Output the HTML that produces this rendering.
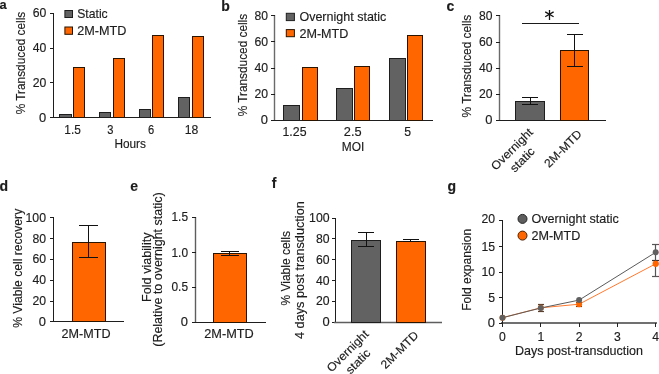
<!DOCTYPE html>
<html><head><meta charset="utf-8"><style>
html,body{margin:0;padding:0;background:#fff;width:659px;height:374px;overflow:hidden}
svg{display:block;will-change:transform;font-family:"Liberation Sans",sans-serif}
</style></head><body>
<svg width="659" height="374" viewBox="0 0 659 374">
<rect width="659" height="374" fill="#fff"/>
<text x="-0.4" y="8.8" font-size="12.8" text-anchor="start" font-weight="bold" fill="#1c1c1c" stroke="#1c1c1c" stroke-width="0.15">a</text>
<text transform="translate(24.5,63) rotate(-90)" x="0" y="0" font-size="12.1" text-anchor="middle" fill="#1c1c1c" stroke="#1c1c1c" stroke-width="0.15" textLength="102.5" lengthAdjust="spacingAndGlyphs">% Transduced cells</text>
<line x1="53.5" y1="13" x2="53.5" y2="118" stroke="#1e1e1e" stroke-width="1.0"/>
<line x1="50" y1="13.5" x2="54" y2="13.5" stroke="#1e1e1e" stroke-width="1.0"/>
<text x="46.3" y="17.4" font-size="12.1" text-anchor="end" font-weight="normal" fill="#1c1c1c" stroke="#1c1c1c" stroke-width="0.15" textLength="13.6" lengthAdjust="spacingAndGlyphs">60</text>
<line x1="50" y1="48.5" x2="54" y2="48.5" stroke="#1e1e1e" stroke-width="1.0"/>
<text x="46.3" y="52.1" font-size="12.1" text-anchor="end" font-weight="normal" fill="#1c1c1c" stroke="#1c1c1c" stroke-width="0.15" textLength="13.6" lengthAdjust="spacingAndGlyphs">40</text>
<line x1="50" y1="82.5" x2="54" y2="82.5" stroke="#1e1e1e" stroke-width="1.0"/>
<text x="46.3" y="86.8" font-size="12.1" text-anchor="end" font-weight="normal" fill="#1c1c1c" stroke="#1c1c1c" stroke-width="0.15" textLength="13.6" lengthAdjust="spacingAndGlyphs">20</text>
<line x1="50" y1="117.5" x2="54" y2="117.5" stroke="#1e1e1e" stroke-width="1.0"/>
<text x="46.3" y="121.6" font-size="12.1" text-anchor="end" font-weight="normal" fill="#1c1c1c" stroke="#1c1c1c" stroke-width="0.15" textLength="7.2" lengthAdjust="spacingAndGlyphs">0</text>
<line x1="53" y1="117.5" x2="211" y2="117.5" stroke="#1e1e1e" stroke-width="1.0"/>
<rect x="59.5" y="114.5" width="12.0" height="3.0" fill="#626262" stroke="#1e1e1e" stroke-width="1.0"/>
<rect x="73.5" y="67.5" width="11.0" height="50.0" fill="#ff6600" stroke="#2a1400" stroke-width="1.0"/>
<rect x="99.5" y="112.5" width="11.0" height="5.0" fill="#626262" stroke="#1e1e1e" stroke-width="1.0"/>
<rect x="113.5" y="58.5" width="11.0" height="59.0" fill="#ff6600" stroke="#2a1400" stroke-width="1.0"/>
<rect x="139.5" y="109.5" width="11.0" height="8.0" fill="#626262" stroke="#1e1e1e" stroke-width="1.0"/>
<rect x="152.5" y="35.5" width="11.0" height="82.0" fill="#ff6600" stroke="#2a1400" stroke-width="1.0"/>
<rect x="178.5" y="97.5" width="11.0" height="20.0" fill="#626262" stroke="#1e1e1e" stroke-width="1.0"/>
<rect x="192.5" y="36.5" width="11.0" height="81.0" fill="#ff6600" stroke="#2a1400" stroke-width="1.0"/>
<text x="72.6" y="134.0" font-size="12.1" text-anchor="middle" font-weight="normal" fill="#1c1c1c" stroke="#1c1c1c" stroke-width="0.15" textLength="16.5" lengthAdjust="spacingAndGlyphs">1.5</text>
<text x="110.4" y="134.0" font-size="12.1" text-anchor="middle" font-weight="normal" fill="#1c1c1c" stroke="#1c1c1c" stroke-width="0.15" textLength="6.2" lengthAdjust="spacingAndGlyphs">3</text>
<text x="151.0" y="134.0" font-size="12.1" text-anchor="middle" font-weight="normal" fill="#1c1c1c" stroke="#1c1c1c" stroke-width="0.15" textLength="6.2" lengthAdjust="spacingAndGlyphs">6</text>
<text x="191.6" y="134.0" font-size="12.1" text-anchor="middle" font-weight="normal" fill="#1c1c1c" stroke="#1c1c1c" stroke-width="0.15" textLength="13.6" lengthAdjust="spacingAndGlyphs">18</text>
<text x="130.2" y="148.4" font-size="12.1" text-anchor="middle" font-weight="normal" fill="#1c1c1c" stroke="#1c1c1c" stroke-width="0.15" textLength="31.5" lengthAdjust="spacingAndGlyphs">Hours</text>
<rect x="64.9" y="10.5" width="7.599999999999994" height="7.0" fill="#626262" stroke="#1e1e1e" stroke-width="1.0"/>
<rect x="64.9" y="27.0" width="7.599999999999994" height="7.299999999999997" fill="#ff6600" stroke="#2a1400" stroke-width="1.0"/>
<text x="77.2" y="18.1" font-size="12.1" text-anchor="start" font-weight="normal" fill="#1c1c1c" stroke="#1c1c1c" stroke-width="0.15" textLength="30.5" lengthAdjust="spacingAndGlyphs">Static</text>
<text x="77.2" y="35.0" font-size="12.1" text-anchor="start" font-weight="normal" fill="#1c1c1c" stroke="#1c1c1c" stroke-width="0.15" textLength="49.3" lengthAdjust="spacingAndGlyphs">2M-MTD</text>
<text x="221.2" y="10.5" font-size="14.0" text-anchor="start" font-weight="bold" fill="#1c1c1c" stroke="#1c1c1c" stroke-width="0.15">b</text>
<text transform="translate(247.0,65.1) rotate(-90)" x="0" y="0" font-size="12.1" text-anchor="middle" fill="#1c1c1c" stroke="#1c1c1c" stroke-width="0.15" textLength="102.5" lengthAdjust="spacingAndGlyphs">% Transduced cells</text>
<line x1="274.5" y1="15" x2="274.5" y2="121" stroke="#6a6a6a" stroke-width="1.4"/>
<line x1="271" y1="15.5" x2="275" y2="15.5" stroke="#1e1e1e" stroke-width="1.0"/>
<text x="268.0" y="19.7" font-size="12.1" text-anchor="end" font-weight="normal" fill="#1c1c1c" stroke="#1c1c1c" stroke-width="0.15">80</text>
<line x1="271" y1="41.5" x2="275" y2="41.5" stroke="#1e1e1e" stroke-width="1.0"/>
<text x="268.0" y="45.9" font-size="12.1" text-anchor="end" font-weight="normal" fill="#1c1c1c" stroke="#1c1c1c" stroke-width="0.15" textLength="13.6" lengthAdjust="spacingAndGlyphs">60</text>
<line x1="271" y1="68.5" x2="275" y2="68.5" stroke="#1e1e1e" stroke-width="1.0"/>
<text x="268.0" y="72.0" font-size="12.1" text-anchor="end" font-weight="normal" fill="#1c1c1c" stroke="#1c1c1c" stroke-width="0.15" textLength="13.6" lengthAdjust="spacingAndGlyphs">40</text>
<line x1="271" y1="94.5" x2="275" y2="94.5" stroke="#1e1e1e" stroke-width="1.0"/>
<text x="268.0" y="98.1" font-size="12.1" text-anchor="end" font-weight="normal" fill="#1c1c1c" stroke="#1c1c1c" stroke-width="0.15" textLength="13.6" lengthAdjust="spacingAndGlyphs">20</text>
<line x1="271" y1="120.5" x2="275" y2="120.5" stroke="#1e1e1e" stroke-width="1.0"/>
<text x="268.0" y="124.3" font-size="12.1" text-anchor="end" font-weight="normal" fill="#1c1c1c" stroke="#1c1c1c" stroke-width="0.15" textLength="7.2" lengthAdjust="spacingAndGlyphs">0</text>
<line x1="272" y1="120.5" x2="433" y2="120.5" stroke="#1e1e1e" stroke-width="1.0"/>
<rect x="283.5" y="105.5" width="16.0" height="15.0" fill="#626262" stroke="#1e1e1e" stroke-width="1.0"/>
<rect x="302.5" y="67.5" width="15.0" height="53.0" fill="#ff6600" stroke="#2a1400" stroke-width="1.0"/>
<rect x="336.5" y="88.5" width="16.0" height="32.0" fill="#626262" stroke="#1e1e1e" stroke-width="1.0"/>
<rect x="354.5" y="66.5" width="15.0" height="54.0" fill="#ff6600" stroke="#2a1400" stroke-width="1.0"/>
<rect x="389.5" y="58.5" width="16.0" height="62.0" fill="#626262" stroke="#1e1e1e" stroke-width="1.0"/>
<rect x="407.5" y="35.5" width="15.0" height="85.0" fill="#ff6600" stroke="#2a1400" stroke-width="1.0"/>
<text x="294.5" y="135.9" font-size="12.1" text-anchor="middle" font-weight="normal" fill="#1c1c1c" stroke="#1c1c1c" stroke-width="0.15" textLength="24.0" lengthAdjust="spacingAndGlyphs">1.25</text>
<text x="352.7" y="135.9" font-size="12.1" text-anchor="middle" font-weight="normal" fill="#1c1c1c" stroke="#1c1c1c" stroke-width="0.15" textLength="17.8" lengthAdjust="spacingAndGlyphs">2.5</text>
<text x="407.6" y="135.9" font-size="12.1" text-anchor="middle" font-weight="normal" fill="#1c1c1c" stroke="#1c1c1c" stroke-width="0.15" textLength="6.8" lengthAdjust="spacingAndGlyphs">5</text>
<text x="353.0" y="150.9" font-size="12.1" text-anchor="middle" font-weight="normal" fill="#1c1c1c" stroke="#1c1c1c" stroke-width="0.15" textLength="22.5" lengthAdjust="spacingAndGlyphs">MOI</text>
<rect x="286.3" y="13.3" width="8.099999999999966" height="7.300000000000001" fill="#626262" stroke="#1e1e1e" stroke-width="1.0"/>
<rect x="286.3" y="29.6" width="8.099999999999966" height="7.100000000000001" fill="#ff6600" stroke="#2a1400" stroke-width="1.0"/>
<text x="299.4" y="21.3" font-size="12.1" text-anchor="start" font-weight="normal" fill="#1c1c1c" stroke="#1c1c1c" stroke-width="0.15" textLength="87.0" lengthAdjust="spacingAndGlyphs">Overnight static</text>
<text x="299.4" y="38.2" font-size="12.1" text-anchor="start" font-weight="normal" fill="#1c1c1c" stroke="#1c1c1c" stroke-width="0.15" textLength="49.0" lengthAdjust="spacingAndGlyphs">2M-MTD</text>
<text x="446.4" y="10.8" font-size="14.0" text-anchor="start" font-weight="bold" fill="#1c1c1c" stroke="#1c1c1c" stroke-width="0.15">c</text>
<text transform="translate(471.3,66.1) rotate(-90)" x="0" y="0" font-size="12.1" text-anchor="middle" fill="#1c1c1c" stroke="#1c1c1c" stroke-width="0.15" textLength="102.8" lengthAdjust="spacingAndGlyphs">% Transduced cells</text>
<line x1="499.5" y1="15" x2="499.5" y2="121" stroke="#6a6a6a" stroke-width="1.4"/>
<line x1="496" y1="15.5" x2="500" y2="15.5" stroke="#1e1e1e" stroke-width="1.0"/>
<text x="492.5" y="19.9" font-size="12.1" text-anchor="end" font-weight="normal" fill="#1c1c1c" stroke="#1c1c1c" stroke-width="0.15">80</text>
<line x1="496" y1="42.5" x2="500" y2="42.5" stroke="#1e1e1e" stroke-width="1.0"/>
<text x="492.5" y="46.0" font-size="12.1" text-anchor="end" font-weight="normal" fill="#1c1c1c" stroke="#1c1c1c" stroke-width="0.15" textLength="13.6" lengthAdjust="spacingAndGlyphs">60</text>
<line x1="496" y1="68.5" x2="500" y2="68.5" stroke="#1e1e1e" stroke-width="1.0"/>
<text x="492.5" y="72.1" font-size="12.1" text-anchor="end" font-weight="normal" fill="#1c1c1c" stroke="#1c1c1c" stroke-width="0.15" textLength="13.6" lengthAdjust="spacingAndGlyphs">40</text>
<line x1="496" y1="94.5" x2="500" y2="94.5" stroke="#1e1e1e" stroke-width="1.0"/>
<text x="492.5" y="98.1" font-size="12.1" text-anchor="end" font-weight="normal" fill="#1c1c1c" stroke="#1c1c1c" stroke-width="0.15" textLength="13.6" lengthAdjust="spacingAndGlyphs">20</text>
<line x1="496" y1="120.5" x2="500" y2="120.5" stroke="#1e1e1e" stroke-width="1.0"/>
<text x="492.5" y="124.1" font-size="12.1" text-anchor="end" font-weight="normal" fill="#1c1c1c" stroke="#1c1c1c" stroke-width="0.15" textLength="7.2" lengthAdjust="spacingAndGlyphs">0</text>
<line x1="498" y1="120.5" x2="606" y2="120.5" stroke="#1e1e1e" stroke-width="1.0"/>
<rect x="515.5" y="101.5" width="29.0" height="19.0" fill="#626262" stroke="#1e1e1e" stroke-width="1.0"/>
<rect x="560.5" y="50.5" width="28.0" height="70.0" fill="#ff6600" stroke="#2a1400" stroke-width="1.0"/>
<line x1="530.5" y1="97" x2="530.5" y2="105" stroke="#111" stroke-width="1.0"/>
<line x1="522" y1="97.5" x2="538" y2="97.5" stroke="#111" stroke-width="1.0"/>
<line x1="522" y1="104.5" x2="538" y2="104.5" stroke="#111" stroke-width="1.0"/>
<line x1="574.5" y1="34" x2="574.5" y2="67" stroke="#111" stroke-width="1.0"/>
<line x1="567" y1="34.5" x2="583" y2="34.5" stroke="#111" stroke-width="1.0"/>
<line x1="567" y1="66.5" x2="583" y2="66.5" stroke="#111" stroke-width="1.0"/>
<line x1="522" y1="23.5" x2="579" y2="23.5" stroke="#1a1a1a" stroke-width="1.2"/>
<line x1="549.5" y1="10" x2="549.5" y2="20" stroke="#111" stroke-width="1.3"/>
<line x1="545.2" y1="11.9" x2="553.6" y2="16.8" stroke="#111" stroke-width="1.3"/>
<line x1="545.2" y1="16.8" x2="553.6" y2="11.9" stroke="#111" stroke-width="1.3"/>
<g transform="translate(514.7,152.0) rotate(-45)">
<text x="0" y="0" font-size="11.8" text-anchor="middle" font-weight="normal" fill="#1c1c1c" stroke="#1c1c1c" stroke-width="0.15" textLength="53.5" lengthAdjust="spacingAndGlyphs">Overnight</text>
<text x="0" y="14.8" font-size="11.8" text-anchor="middle" font-weight="normal" fill="#1c1c1c" stroke="#1c1c1c" stroke-width="0.15" textLength="29.5" lengthAdjust="spacingAndGlyphs">static</text>
</g>
<g transform="translate(565.8,151.5) rotate(-45)">
<text x="0" y="0" font-size="11.8" text-anchor="middle" font-weight="normal" fill="#1c1c1c" stroke="#1c1c1c" stroke-width="0.15" textLength="47.5" lengthAdjust="spacingAndGlyphs">2M-MTD</text>
</g>
<text x="-0.6" y="190.8" font-size="14.0" text-anchor="start" font-weight="bold" fill="#1c1c1c" stroke="#1c1c1c" stroke-width="0.15">d</text>
<text transform="translate(21.8,268.3) rotate(-90)" x="0" y="0" font-size="12.1" text-anchor="middle" fill="#1c1c1c" stroke="#1c1c1c" stroke-width="0.15" textLength="119" lengthAdjust="spacingAndGlyphs">% Viable cell recovery</text>
<line x1="53.5" y1="217" x2="53.5" y2="322" stroke="#1e1e1e" stroke-width="1.0"/>
<line x1="50" y1="217.5" x2="54" y2="217.5" stroke="#1e1e1e" stroke-width="1.0"/>
<text x="46.0" y="221.8" font-size="12.1" text-anchor="end" font-weight="normal" fill="#1c1c1c" stroke="#1c1c1c" stroke-width="0.15" textLength="20.5" lengthAdjust="spacingAndGlyphs">100</text>
<line x1="50" y1="238.5" x2="54" y2="238.5" stroke="#1e1e1e" stroke-width="1.0"/>
<text x="46.0" y="242.6" font-size="12.1" text-anchor="end" font-weight="normal" fill="#1c1c1c" stroke="#1c1c1c" stroke-width="0.15" textLength="13.6" lengthAdjust="spacingAndGlyphs">80</text>
<line x1="50" y1="259.5" x2="54" y2="259.5" stroke="#1e1e1e" stroke-width="1.0"/>
<text x="46.0" y="263.4" font-size="12.1" text-anchor="end" font-weight="normal" fill="#1c1c1c" stroke="#1c1c1c" stroke-width="0.15" textLength="13.6" lengthAdjust="spacingAndGlyphs">60</text>
<line x1="50" y1="280.5" x2="54" y2="280.5" stroke="#1e1e1e" stroke-width="1.0"/>
<text x="46.0" y="284.2" font-size="12.1" text-anchor="end" font-weight="normal" fill="#1c1c1c" stroke="#1c1c1c" stroke-width="0.15" textLength="13.6" lengthAdjust="spacingAndGlyphs">40</text>
<line x1="50" y1="301.5" x2="54" y2="301.5" stroke="#1e1e1e" stroke-width="1.0"/>
<text x="46.0" y="305.0" font-size="12.1" text-anchor="end" font-weight="normal" fill="#1c1c1c" stroke="#1c1c1c" stroke-width="0.15" textLength="13.6" lengthAdjust="spacingAndGlyphs">20</text>
<line x1="50" y1="321.5" x2="54" y2="321.5" stroke="#1e1e1e" stroke-width="1.0"/>
<text x="46.0" y="325.8" font-size="12.1" text-anchor="end" font-weight="normal" fill="#1c1c1c" stroke="#1c1c1c" stroke-width="0.15" textLength="7.2" lengthAdjust="spacingAndGlyphs">0</text>
<line x1="53" y1="321.5" x2="124" y2="321.5" stroke="#1e1e1e" stroke-width="1.0"/>
<rect x="72.5" y="242.5" width="33.0" height="79.0" fill="#ff6600" stroke="#2a1400" stroke-width="1.0"/>
<line x1="88.5" y1="225" x2="88.5" y2="258" stroke="#111" stroke-width="1.0"/>
<line x1="79" y1="225.5" x2="98" y2="225.5" stroke="#111" stroke-width="1.0"/>
<line x1="79" y1="257.5" x2="98" y2="257.5" stroke="#111" stroke-width="1.0"/>
<text x="86.1" y="337.9" font-size="12.1" text-anchor="middle" font-weight="normal" fill="#1c1c1c" stroke="#1c1c1c" stroke-width="0.15" textLength="49.0" lengthAdjust="spacingAndGlyphs">2M-MTD</text>
<text x="130.3" y="190.8" font-size="14.0" text-anchor="start" font-weight="bold" fill="#1c1c1c" stroke="#1c1c1c" stroke-width="0.15">e</text>
<text transform="translate(151.0,267.2) rotate(-90)" x="0" y="0" font-size="12.1" text-anchor="middle" fill="#1c1c1c" stroke="#1c1c1c" stroke-width="0.15" textLength="69.5" lengthAdjust="spacingAndGlyphs">Fold viability</text>
<text transform="translate(162.3,269.5) rotate(-90)" x="0" y="0" font-size="12.1" text-anchor="middle" fill="#1c1c1c" stroke="#1c1c1c" stroke-width="0.15" textLength="154.5" lengthAdjust="spacingAndGlyphs">(Relative to overnight static)</text>
<line x1="195.5" y1="217" x2="195.5" y2="323" stroke="#5e5e5e" stroke-width="1.4"/>
<line x1="192" y1="217.5" x2="196" y2="217.5" stroke="#1e1e1e" stroke-width="1.0"/>
<text x="188.0" y="221.2" font-size="12.1" text-anchor="end" font-weight="normal" fill="#1c1c1c" stroke="#1c1c1c" stroke-width="0.15" textLength="16.5" lengthAdjust="spacingAndGlyphs">1.5</text>
<line x1="192" y1="252.5" x2="196" y2="252.5" stroke="#1e1e1e" stroke-width="1.0"/>
<text x="188.0" y="257.2" font-size="12.1" text-anchor="end" font-weight="normal" fill="#1c1c1c" stroke="#1c1c1c" stroke-width="0.15" textLength="16.5" lengthAdjust="spacingAndGlyphs">1.0</text>
<line x1="192" y1="287.5" x2="196" y2="287.5" stroke="#1e1e1e" stroke-width="1.0"/>
<text x="188.0" y="291.2" font-size="12.1" text-anchor="end" font-weight="normal" fill="#1c1c1c" stroke="#1c1c1c" stroke-width="0.15" textLength="16.5" lengthAdjust="spacingAndGlyphs">0.5</text>
<line x1="192" y1="322.5" x2="196" y2="322.5" stroke="#1e1e1e" stroke-width="1.0"/>
<text x="188.0" y="326.2" font-size="12.1" text-anchor="end" font-weight="normal" fill="#1c1c1c" stroke="#1c1c1c" stroke-width="0.15" textLength="7.2" lengthAdjust="spacingAndGlyphs">0</text>
<line x1="192" y1="322.5" x2="266" y2="322.5" stroke="#1e1e1e" stroke-width="1.0"/>
<rect x="213.5" y="253.5" width="33.0" height="69.0" fill="#ff6600" stroke="#2a1400" stroke-width="1.0"/>
<line x1="229.5" y1="251" x2="229.5" y2="256" stroke="#111" stroke-width="1.0"/>
<line x1="221" y1="251.5" x2="239" y2="251.5" stroke="#111" stroke-width="1.0"/>
<line x1="221" y1="255.5" x2="239" y2="255.5" stroke="#111" stroke-width="1.0"/>
<text x="229.0" y="337.9" font-size="12.1" text-anchor="middle" font-weight="normal" fill="#1c1c1c" stroke="#1c1c1c" stroke-width="0.15" textLength="49.5" lengthAdjust="spacingAndGlyphs">2M-MTD</text>
<text x="271.8" y="188.4" font-size="14.0" text-anchor="start" font-weight="bold" fill="#1c1c1c" stroke="#1c1c1c" stroke-width="0.15">f</text>
<text transform="translate(289.8,268.3) rotate(-90)" x="0" y="0" font-size="12.1" text-anchor="middle" fill="#1c1c1c" stroke="#1c1c1c" stroke-width="0.15" textLength="74.5" lengthAdjust="spacingAndGlyphs">% Viable cells</text>
<text transform="translate(303.5,270.1) rotate(-90)" x="0" y="0" font-size="12.1" text-anchor="middle" fill="#1c1c1c" stroke="#1c1c1c" stroke-width="0.15" textLength="137.8" lengthAdjust="spacingAndGlyphs">4 days post transduction</text>
<line x1="335.5" y1="218" x2="335.5" y2="323" stroke="#1e1e1e" stroke-width="1.0"/>
<line x1="332" y1="218.5" x2="336" y2="218.5" stroke="#1e1e1e" stroke-width="1.0"/>
<text x="329.6" y="222.0" font-size="12.1" text-anchor="end" font-weight="normal" fill="#1c1c1c" stroke="#1c1c1c" stroke-width="0.15" textLength="20.5" lengthAdjust="spacingAndGlyphs">100</text>
<line x1="332" y1="238.5" x2="336" y2="238.5" stroke="#1e1e1e" stroke-width="1.0"/>
<text x="329.6" y="242.9" font-size="12.1" text-anchor="end" font-weight="normal" fill="#1c1c1c" stroke="#1c1c1c" stroke-width="0.15" textLength="13.6" lengthAdjust="spacingAndGlyphs">80</text>
<line x1="332" y1="259.5" x2="336" y2="259.5" stroke="#1e1e1e" stroke-width="1.0"/>
<text x="329.6" y="263.7" font-size="12.1" text-anchor="end" font-weight="normal" fill="#1c1c1c" stroke="#1c1c1c" stroke-width="0.15" textLength="13.6" lengthAdjust="spacingAndGlyphs">60</text>
<line x1="332" y1="280.5" x2="336" y2="280.5" stroke="#1e1e1e" stroke-width="1.0"/>
<text x="329.6" y="284.6" font-size="12.1" text-anchor="end" font-weight="normal" fill="#1c1c1c" stroke="#1c1c1c" stroke-width="0.15" textLength="13.6" lengthAdjust="spacingAndGlyphs">40</text>
<line x1="332" y1="301.5" x2="336" y2="301.5" stroke="#1e1e1e" stroke-width="1.0"/>
<text x="329.6" y="305.4" font-size="12.1" text-anchor="end" font-weight="normal" fill="#1c1c1c" stroke="#1c1c1c" stroke-width="0.15" textLength="13.6" lengthAdjust="spacingAndGlyphs">20</text>
<line x1="332" y1="322.5" x2="336" y2="322.5" stroke="#1e1e1e" stroke-width="1.0"/>
<text x="329.6" y="326.3" font-size="12.1" text-anchor="end" font-weight="normal" fill="#1c1c1c" stroke="#1c1c1c" stroke-width="0.15" textLength="7.2" lengthAdjust="spacingAndGlyphs">0</text>
<line x1="334" y1="322.5" x2="442" y2="322.5" stroke="#5e5e5e" stroke-width="1.4"/>
<rect x="351.5" y="240.5" width="29.0" height="82.0" fill="#626262" stroke="#1e1e1e" stroke-width="1.0"/>
<rect x="396.5" y="241.5" width="29.0" height="81.0" fill="#ff6600" stroke="#2a1400" stroke-width="1.0"/>
<line x1="366.5" y1="232" x2="366.5" y2="247" stroke="#111" stroke-width="1.0"/>
<line x1="358" y1="232.5" x2="374" y2="232.5" stroke="#111" stroke-width="1.0"/>
<line x1="358" y1="246.5" x2="374" y2="246.5" stroke="#111" stroke-width="1.0"/>
<line x1="410.5" y1="239" x2="410.5" y2="242" stroke="#111" stroke-width="1.0"/>
<line x1="403" y1="239.5" x2="419" y2="239.5" stroke="#111" stroke-width="1.0"/>
<line x1="403" y1="241.5" x2="419" y2="241.5" stroke="#111" stroke-width="1.0"/>
<g transform="translate(350.4,353.8) rotate(-45)">
<text x="0" y="0" font-size="11.8" text-anchor="middle" font-weight="normal" fill="#1c1c1c" stroke="#1c1c1c" stroke-width="0.15" textLength="53.5" lengthAdjust="spacingAndGlyphs">Overnight</text>
<text x="0" y="14.8" font-size="11.8" text-anchor="middle" font-weight="normal" fill="#1c1c1c" stroke="#1c1c1c" stroke-width="0.15" textLength="29.5" lengthAdjust="spacingAndGlyphs">static</text>
</g>
<g transform="translate(402.4,352.8) rotate(-45)">
<text x="0" y="0" font-size="11.8" text-anchor="middle" font-weight="normal" fill="#1c1c1c" stroke="#1c1c1c" stroke-width="0.15" textLength="47.5" lengthAdjust="spacingAndGlyphs">2M-MTD</text>
</g>
<text x="447.6" y="191.0" font-size="14.0" text-anchor="start" font-weight="bold" fill="#1c1c1c" stroke="#1c1c1c" stroke-width="0.15">g</text>
<text transform="translate(471.0,269.8) rotate(-90)" x="0" y="0" font-size="12.1" text-anchor="middle" fill="#1c1c1c" stroke="#1c1c1c" stroke-width="0.15" textLength="82" lengthAdjust="spacingAndGlyphs">Fold expansion</text>
<line x1="501.0" y1="323.0" x2="657" y2="323.0" stroke="#707070" stroke-width="1.8"/>
<line x1="502.5" y1="220" x2="502.5" y2="324" stroke="#1e1e1e" stroke-width="1.0"/>
<line x1="499" y1="220.5" x2="503" y2="220.5" stroke="#1e1e1e" stroke-width="1.0"/>
<text x="495.0" y="222.9" font-size="12.1" text-anchor="end" font-weight="normal" fill="#1c1c1c" stroke="#1c1c1c" stroke-width="0.15" textLength="13.6" lengthAdjust="spacingAndGlyphs">20</text>
<line x1="499" y1="246.5" x2="503" y2="246.5" stroke="#1e1e1e" stroke-width="1.0"/>
<text x="495.0" y="250.5" font-size="12.1" text-anchor="end" font-weight="normal" fill="#1c1c1c" stroke="#1c1c1c" stroke-width="0.15" textLength="13.6" lengthAdjust="spacingAndGlyphs">15</text>
<line x1="499" y1="272.5" x2="503" y2="272.5" stroke="#1e1e1e" stroke-width="1.0"/>
<text x="495.0" y="276.0" font-size="12.1" text-anchor="end" font-weight="normal" fill="#1c1c1c" stroke="#1c1c1c" stroke-width="0.15" textLength="13.6" lengthAdjust="spacingAndGlyphs">10</text>
<line x1="499" y1="297.5" x2="503" y2="297.5" stroke="#1e1e1e" stroke-width="1.0"/>
<text x="495.0" y="301.5" font-size="12.1" text-anchor="end" font-weight="normal" fill="#1c1c1c" stroke="#1c1c1c" stroke-width="0.15" textLength="6.8" lengthAdjust="spacingAndGlyphs">5</text>
<line x1="499" y1="323.5" x2="503" y2="323.5" stroke="#1e1e1e" stroke-width="1.0"/>
<text x="495.0" y="327.1" font-size="12.1" text-anchor="end" font-weight="normal" fill="#1c1c1c" stroke="#1c1c1c" stroke-width="0.15" textLength="7.2" lengthAdjust="spacingAndGlyphs">0</text>
<line x1="502.5" y1="323" x2="502.5" y2="327" stroke="#222" stroke-width="1.0"/>
<line x1="540.5" y1="323" x2="540.5" y2="327" stroke="#222" stroke-width="1.0"/>
<line x1="579.5" y1="323" x2="579.5" y2="327" stroke="#222" stroke-width="1.0"/>
<line x1="617.5" y1="323" x2="617.5" y2="327" stroke="#222" stroke-width="1.0"/>
<line x1="655.5" y1="323" x2="655.5" y2="327" stroke="#222" stroke-width="1.0"/>
<text x="502.5" y="340.8" font-size="12.1" text-anchor="middle" font-weight="normal" fill="#1c1c1c" stroke="#1c1c1c" stroke-width="0.15" textLength="6.8" lengthAdjust="spacingAndGlyphs">0</text>
<text x="540.8" y="340.8" font-size="12.1" text-anchor="middle" font-weight="normal" fill="#1c1c1c" stroke="#1c1c1c" stroke-width="0.15" textLength="6.8" lengthAdjust="spacingAndGlyphs">1</text>
<text x="579.1" y="340.8" font-size="12.1" text-anchor="middle" font-weight="normal" fill="#1c1c1c" stroke="#1c1c1c" stroke-width="0.15" textLength="6.8" lengthAdjust="spacingAndGlyphs">2</text>
<text x="617.4" y="340.8" font-size="12.1" text-anchor="middle" font-weight="normal" fill="#1c1c1c" stroke="#1c1c1c" stroke-width="0.15" textLength="6.8" lengthAdjust="spacingAndGlyphs">3</text>
<text x="655.7" y="340.8" font-size="12.1" text-anchor="middle" font-weight="normal" fill="#1c1c1c" stroke="#1c1c1c" stroke-width="0.15" textLength="6.8" lengthAdjust="spacingAndGlyphs">4</text>
<text x="579.0" y="355.2" font-size="12.1" text-anchor="middle" font-weight="normal" fill="#1c1c1c" stroke="#1c1c1c" stroke-width="0.15" textLength="128" lengthAdjust="spacingAndGlyphs">Days post-transduction</text>
<polyline points="502.5,317.7 540.8,307.8 579.1,304.2 655.7,263.8" fill="none" stroke="#ff7a30" stroke-width="1.0"/>
<polyline points="502.5,317.7 540.8,308.0 579.1,300.1 655.7,252.3" fill="none" stroke="#5a5a5a" stroke-width="1.0"/>
<line x1="540.5" y1="304" x2="540.5" y2="312" stroke="#5a4030" stroke-width="1.2"/>
<line x1="538" y1="304.5" x2="544" y2="304.5" stroke="#5a4030" stroke-width="1.2"/>
<line x1="538" y1="311.5" x2="544" y2="311.5" stroke="#5a4030" stroke-width="1.2"/>
<line x1="579.5" y1="302" x2="579.5" y2="307" stroke="#7a3000" stroke-width="1.2"/>
<line x1="576" y1="302.5" x2="582" y2="302.5" stroke="#7a3000" stroke-width="1.2"/>
<line x1="576" y1="306.5" x2="582" y2="306.5" stroke="#7a3000" stroke-width="1.2"/>
<line x1="655.5" y1="244" x2="655.5" y2="277" stroke="#555" stroke-width="1.2"/>
<line x1="652" y1="244.5" x2="659" y2="244.5" stroke="#555" stroke-width="1.2"/>
<line x1="652" y1="276.5" x2="659" y2="276.5" stroke="#555" stroke-width="1.2"/>
<line x1="652" y1="260.5" x2="659" y2="260.5" stroke="#333" stroke-width="1.2"/>
<circle cx="502.5" cy="317.7" r="3.0" fill="#ff6600"/>
<circle cx="540.8" cy="307.8" r="3.0" fill="#ff6600"/>
<circle cx="579.1" cy="304.2" r="3.0" fill="#ff6600"/>
<circle cx="655.7" cy="263.8" r="3.0" fill="#ff6600"/>
<circle cx="502.5" cy="317.7" r="3.0" fill="#606060"/>
<circle cx="540.8" cy="308.0" r="3.0" fill="#606060"/>
<circle cx="579.1" cy="300.1" r="3.0" fill="#606060"/>
<circle cx="655.7" cy="252.3" r="3.0" fill="#606060"/>
<circle cx="655.7" cy="263.8" r="3.0" fill="#ff6600"/>
<circle cx="522.5" cy="218.9" r="4.5" fill="#5e5e5e" stroke="#222" stroke-width="1"/>
<circle cx="522.5" cy="235.6" r="4.5" fill="#ff6600" stroke="#4a2000" stroke-width="1"/>
<text x="531.4" y="223.3" font-size="12.1" text-anchor="start" font-weight="normal" fill="#1c1c1c" stroke="#1c1c1c" stroke-width="0.15" textLength="87.5" lengthAdjust="spacingAndGlyphs">Overnight static</text>
<text x="531.4" y="240.0" font-size="12.1" text-anchor="start" font-weight="normal" fill="#1c1c1c" stroke="#1c1c1c" stroke-width="0.15" textLength="49.0" lengthAdjust="spacingAndGlyphs">2M-MTD</text>
</svg>
</body></html>
